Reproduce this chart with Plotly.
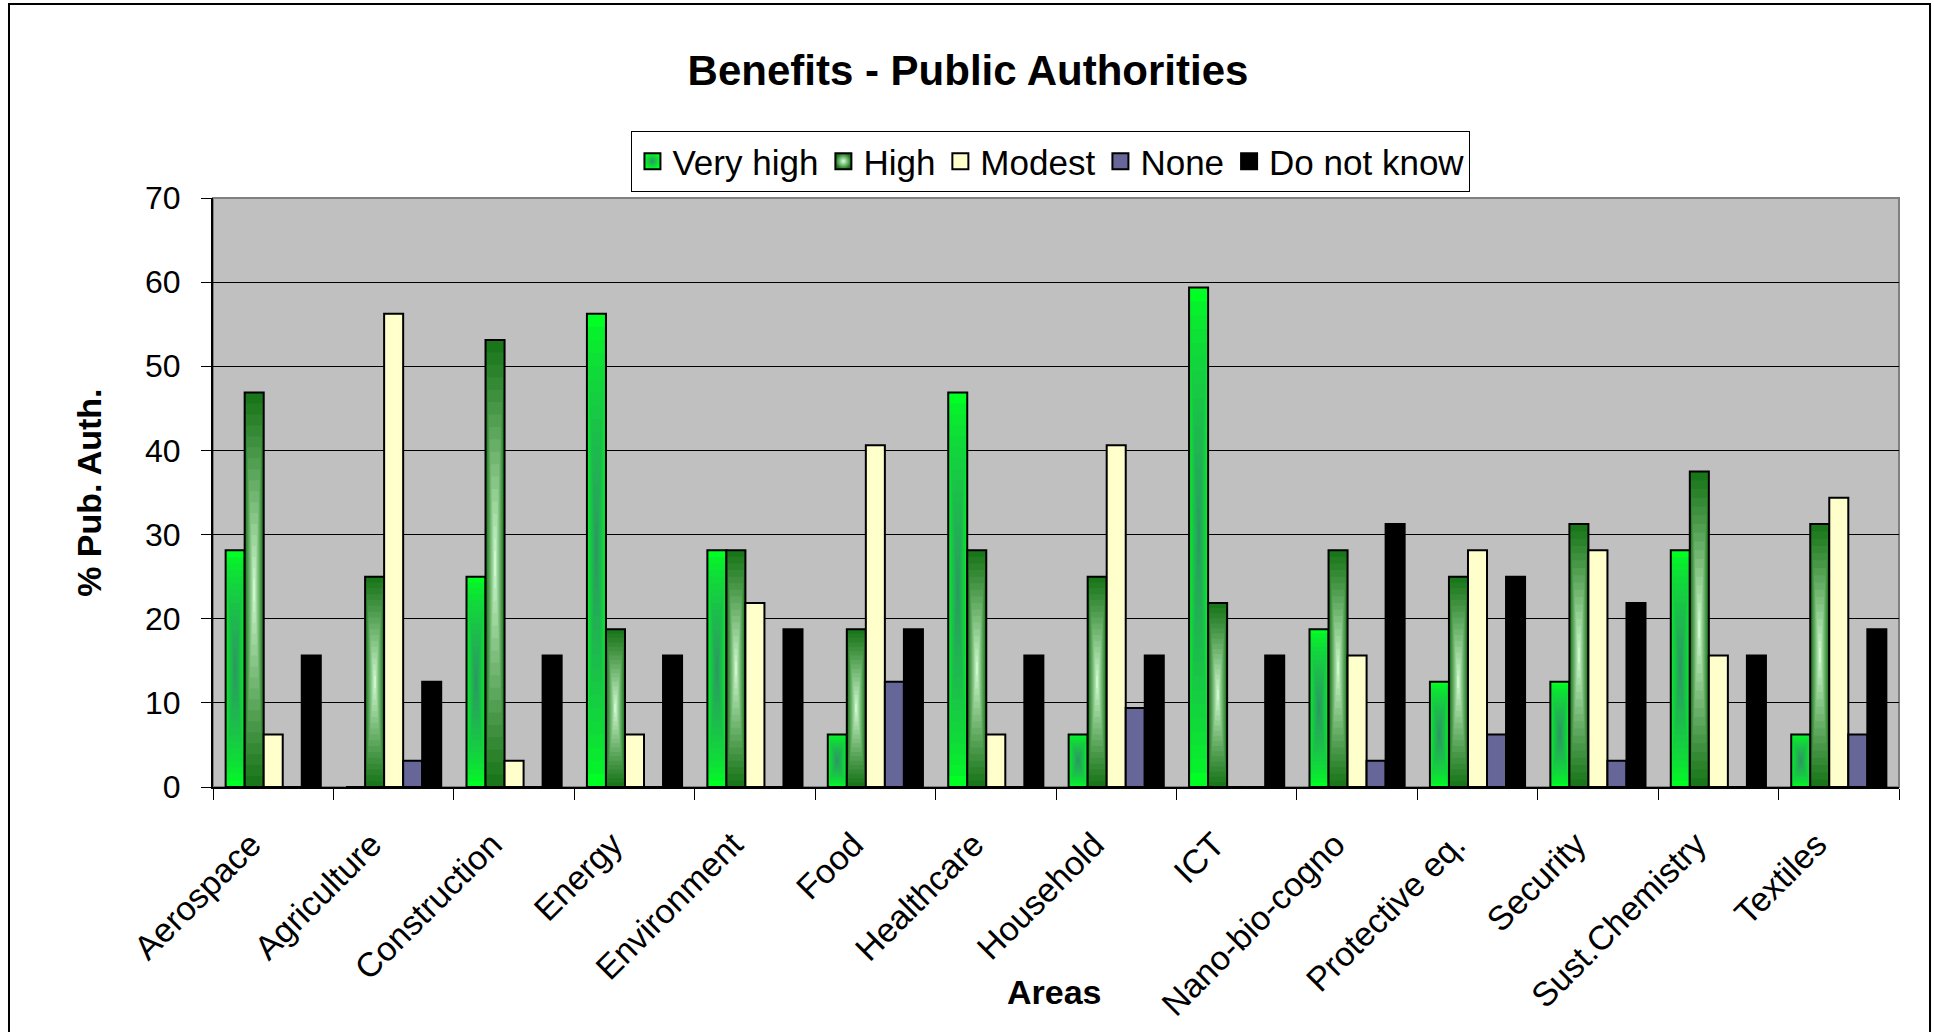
import plotly.graph_objects as go

# Survey shares (% of public authorities), 32 respondents per area
areas = ["Aerospace", "Agriculture", "Construction", "Energy", "Environment", "Food",
         "Healthcare", "Household", "ICT", "Nano-bio-cogno", "Protective eq.",
         "Security", "Sust.Chemistry", "Textiles"]

very_high = [28.125, 0, 25.0, 56.25, 28.125, 6.25, 46.875, 6.25, 59.375, 18.75, 12.5, 12.5, 28.125, 6.25]
high = [46.875, 25.0, 53.125, 18.75, 28.125, 18.75, 28.125, 25.0, 21.875, 28.125, 25.0, 31.25, 37.5, 31.25]
modest = [6.25, 56.25, 3.125, 6.25, 21.875, 40.625, 6.25, 40.625, 0, 15.625, 28.125, 28.125, 15.625, 34.375]
none = [0, 3.125, 0, 0, 0, 12.5, 0, 9.375, 0, 3.125, 6.25, 3.125, 0, 6.25]
do_not_know = [15.625, 12.5, 15.625, 15.625, 18.75, 18.75, 15.625, 15.625, 15.625, 31.25, 25.0, 21.875, 15.625, 18.75]

series_names = ["Very high", "High", "Modest", "None", "Do not know"]
y_ticks = [0, 10, 20, 30, 40, 50, 60, 70]

FONT = "Liberation Sans, Arial, sans-serif"

# (edge colour, centre colour, gradient exponent); plain fills have no centre colour
styles = [
    ((0, 255, 34), (45, 150, 100), 0.7),
    ((26, 118, 26), (215, 255, 215), 1.1),
    ((255, 255, 204), None, None),
    ((102, 102, 153), None, None),
    ((0, 0, 0), None, None),
]
values = [very_high, high, modest, none, do_not_know]

GROUP = 0.79
SLOT = GROUP / 5
LAYERS = 18


def rgb(c):
    return "rgb(%d,%d,%d)" % tuple(int(round(v)) for v in c)


def lerp(a, b, t):
    return tuple(a[i] + (b[i] - a[i]) * t for i in range(3))


fig = go.Figure()

for k, (name, vals, (edge, centre, gamma)) in enumerate(zip(series_names, values, styles)):
    left = -GROUP / 2 + k * SLOT
    if centre is None:
        fig.add_trace(go.Bar(x=areas, y=vals, width=SLOT, offset=left,
                             marker=dict(color=rgb(edge), line=dict(color="black", width=2)),
                             showlegend=False, hoverinfo="skip"))
    else:
        # rectangular "from centre" gradient built from nested bars
        for i in range(LAYERS):
            t = i / LAYERS
            s = 1 - t
            col = lerp(edge, centre, t ** gamma)
            fig.add_trace(go.Bar(
                x=areas,
                y=[v * s for v in vals],
                base=[v * (1 - s) / 2 for v in vals],
                width=SLOT * s,
                offset=left + SLOT * (1 - s) / 2,
                marker=dict(color=rgb(col), line=dict(width=0)),
                showlegend=False, hoverinfo="skip"))
        # outline on top
        fig.add_trace(go.Bar(x=areas, y=vals, width=SLOT, offset=left,
                             marker=dict(color="rgba(0,0,0,0)", line=dict(color="black", width=2)),
                             showlegend=False, hoverinfo="skip"))

# legend entries
for name, (edge, centre, gamma) in zip(series_names, styles):
    marker = dict(symbol="square", size=16, color=rgb(edge),
                  line=dict(color="black", width=2))
    if centre is not None:
        marker["gradient"] = dict(type="radial", color=rgb(centre))
    fig.add_trace(go.Scatter(x=[None], y=[None], mode="markers", name=name, marker=marker))

fig.update_layout(
    width=1934, height=1032,
    margin=dict(l=213, r=35, t=198, b=245),
    paper_bgcolor="white",
    plot_bgcolor="#c0c0c0",
    barmode="overlay",
    font=dict(family=FONT, color="black", size=32),
    title=dict(text="<b>Benefits - Public Authorities</b>", x=0.5005, xanchor="center",
               y=1 - 70 / 1032, yanchor="middle", font=dict(size=42, family=FONT)),
    legend=dict(orientation="h", x=0.497, xanchor="center", y=1.1138, yanchor="top",
                bgcolor="white", bordercolor="black", borderwidth=1,
                font=dict(size=35, family=FONT), itemclick=False),
    xaxis=dict(type="category", range=[-0.5, 13.5], tickangle=-45, automargin=False,
               showline=True, linecolor="black", linewidth=2,
               ticks="outside", ticklen=11, tickcolor="black", tickwidth=1,
               tickson="boundaries", showgrid=False,
               ticklabelstandoff=22, ticklabelshift=-22,
               tickfont=dict(size=34, family=FONT)),
    yaxis=dict(range=[0, 70], tickvals=y_ticks, automargin=False,
               showline=True, linecolor="black", linewidth=2,
               ticks="outside", ticklen=10, tickcolor="black", tickwidth=1,
               showgrid=True, gridcolor="black", gridwidth=1, zeroline=False,
               ticklabelstandoff=14,
               tickfont=dict(size=32, family=FONT)),
    annotations=[
        dict(text="<b>Areas</b>", xref="paper", yref="paper", x=0.4994, y=-0.348,
             xanchor="center", yanchor="middle", showarrow=False,
             font=dict(size=34, family=FONT)),
        dict(text="<b>% Pub. Auth.</b>", xref="paper", yref="paper", x=-0.0737, y=0.499,
             xanchor="center", yanchor="middle", showarrow=False, textangle=-90,
             font=dict(size=34, family=FONT)),
    ],
    shapes=[
        dict(type="rect", xref="paper", yref="paper", x0=0, x1=1, y0=0, y1=1,
             line=dict(color="#808080", width=2), layer="below"),
        dict(type="rect", xref="paper", yref="paper", x0=-0.121, x1=1.0184, y0=-0.4295, y1=1.3294,
             line=dict(color="black", width=2)),
    ],
)

fig.write_html("out.html")
